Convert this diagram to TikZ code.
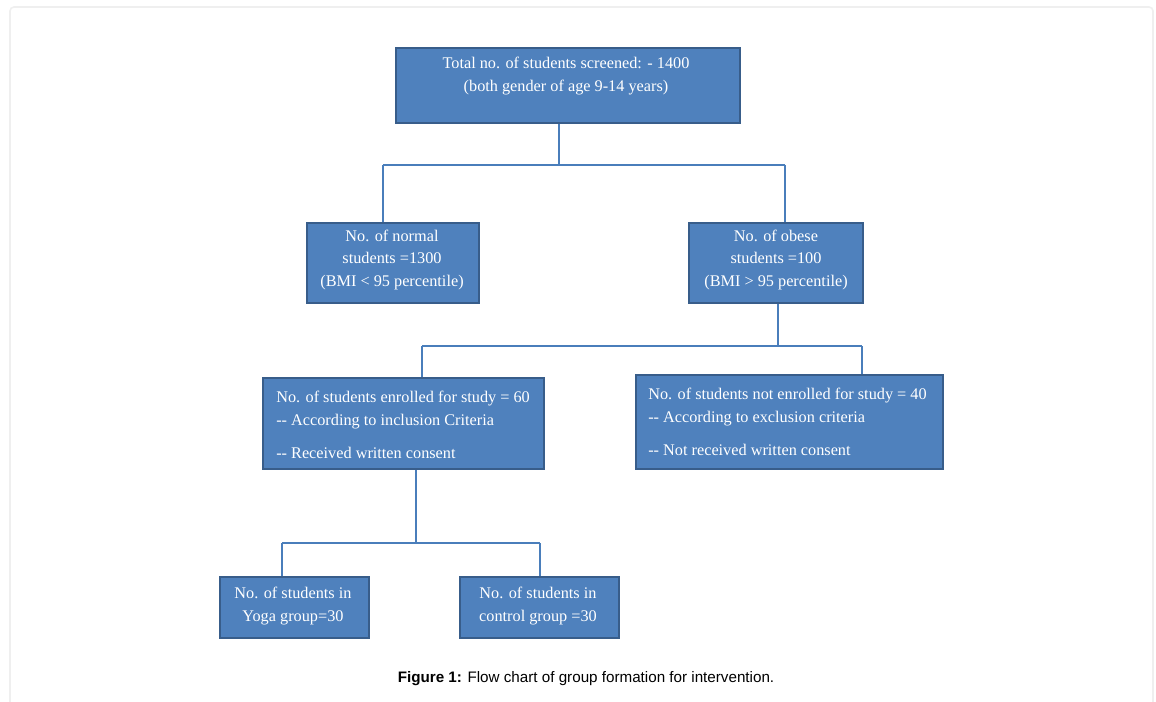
\documentclass[tikz,border=0pt]{standalone}
\usepackage{fontspec}
\setmainfont{Liberation Serif}
\newfontfamily\capfont{Liberation Sans}
\definecolor{boxfill}{HTML}{4F81BD}
\definecolor{boxline}{HTML}{385D8A}
\definecolor{connc}{HTML}{4A7EBB}
\definecolor{frame}{HTML}{EFEFEF}
\tikzset{
  box/.style={draw=boxline, line width=1.6pt, fill=boxfill, inner sep=0pt, anchor=north west},
  txt/.style={text=white, inner sep=0pt, font=\fontsize{12.2}{16.8}\selectfont},
  conn/.style={draw=connc, line width=1.3pt},
}
\begin{document}
\begin{tikzpicture}[x=0.75pt,y=-0.75pt]
\useasboundingbox (0,0) rectangle (1156,702);
\draw[frame, line width=1.2pt, rounded corners=3pt] (10,710) -- (10,7) -- (1153,7) -- (1153,710);
% boxes
\node[box, minimum width=344*0.75pt, minimum height=75*0.75pt] (top) at (395,47) {};
\node[box, minimum width=172*0.75pt, minimum height=80*0.75pt] (normal) at (306,222) {};
\node[box, minimum width=174*0.75pt, minimum height=80*0.75pt] (obese) at (688,222) {};
\node[box, minimum width=281*0.75pt, minimum height=91*0.75pt] (enr) at (262,377) {};
\node[box, minimum width=307*0.75pt, minimum height=94*0.75pt] (nenr) at (635,374) {};
\node[box, minimum width=149*0.75pt, minimum height=61*0.75pt] (yoga) at (219,576) {};
\node[box, minimum width=159*0.75pt, minimum height=61*0.75pt] (ctrl) at (459,576) {};
% texts
\node[txt, align=center] (ttop) at (566,76) {Total no. of students screened: - 1400\\(both gender of age 9-14 years)};
\node[txt, align=center] (tnormal) at (392,260) {No. of normal\\students =1300\\(BMI < 95 percentile)};
\node[txt, align=center] (tobese) at (776,260) {No. of obese\\students =100\\(BMI > 95 percentile)};
\node[txt, align=left, anchor=west] (tenr) at (276,425) {No. of students enrolled for study = 60\\-{}- According to inclusion Criteria\\[8pt]-{}- Received written consent};
\node[txt, align=left, anchor=west] (tnenr) at (648,422) {No. of students not enrolled for study = 40\\-{}- According to exclusion criteria\\[8pt]-{}- Not received written consent};
\node[txt, align=center] (tyoga) at (293,606) {No. of students in\\Yoga group=30};
\node[txt, align=center] (tctrl) at (538,606) {No. of students in\\control group =30};
% junction coordinates
\coordinate (j1) at (559,165);
\coordinate (j1l) at (383,165);
\coordinate (j1r) at (785,165);
\coordinate (j2) at (778,346);
\coordinate (j2l) at (422,346);
\coordinate (j2r) at (862,346);
\coordinate (j3) at (416,543);
\coordinate (j3l) at (282,543);
\coordinate (j3r) at (540,543);
% connectors
\draw[conn] (top.south -| j1) -- (j1);
\draw[conn] (j1l) -- (j1r);
\draw[conn] (j1l) -- (normal.north -| j1l);
\draw[conn] (j1r) -- (obese.north -| j1r);
\draw[conn] (obese.south -| j2) -- (j2);
\draw[conn] (j2l) -- (j2r);
\draw[conn] (j2l) -- (enr.north -| j2l);
\draw[conn] (j2r) -- (nenr.north -| j2r);
\draw[conn] (enr.south -| j3) -- (j3);
\draw[conn] (j3l) -- (j3r);
\draw[conn] (j3l) -- (yoga.north -| j3l);
\draw[conn] (j3r) -- (ctrl.north -| j3r);
% caption
\node[inner sep=0pt, font=\capfont\fontsize{11.4}{13}\selectfont] (cap) at (586,679) {\textbf{Figure 1:} Flow chart of group formation for intervention.};
\end{tikzpicture}
\end{document}
